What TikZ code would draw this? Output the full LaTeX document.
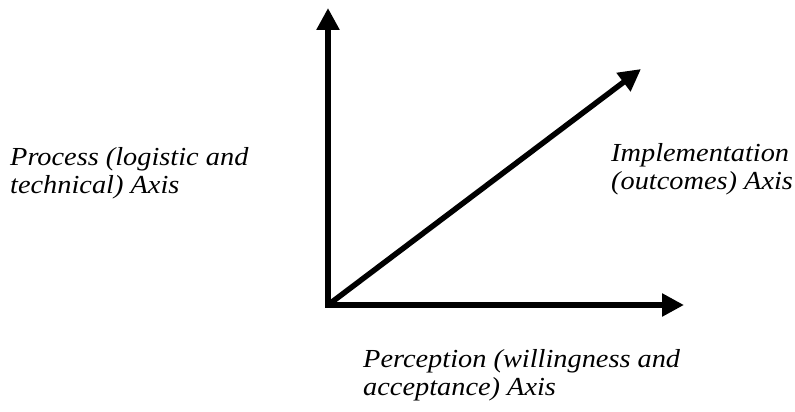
\documentclass[tikz,border=0pt]{standalone}
\usepackage{fontspec}
\setmainfont{Liberation Serif}
\newfontfamily\lblfont[FakeStretch=1.09]{Liberation Serif}
\usetikzlibrary{arrows.meta}
\begin{document}
\begin{tikzpicture}[x=1pt,y=-1pt,
  axis/.style={line width=5.5pt,-{Triangle[length=22pt,width=22pt]}},
  lbl/.style={font=\lblfont\fontsize{26}{28}\selectfont\itshape,align=left,inner sep=0pt,anchor=base west}]
\useasboundingbox[fill=white] (0,0) rectangle (795,412);
\coordinate (O) at (328,305);
\coordinate (Y) at (328,8);
\coordinate (X) at (684,305);
\coordinate (D) at (641,69);
\draw[axis] (O) -- (Y);
\draw[axis] (O) -- (X);
\draw[axis] (O) -- (D);
\draw[line width=5.5pt] (325.25,305) -- (331,305);
\node[lbl] (proc) at (10,193) {Process (logistic and\\technical) Axis};
\node[lbl] (impl) at (611,189) {Implementation\\(outcomes) Axis};
\node[lbl] (perc) at (363,395) {Perception (willingness and\\acceptance) Axis};
\end{tikzpicture}
\end{document}
